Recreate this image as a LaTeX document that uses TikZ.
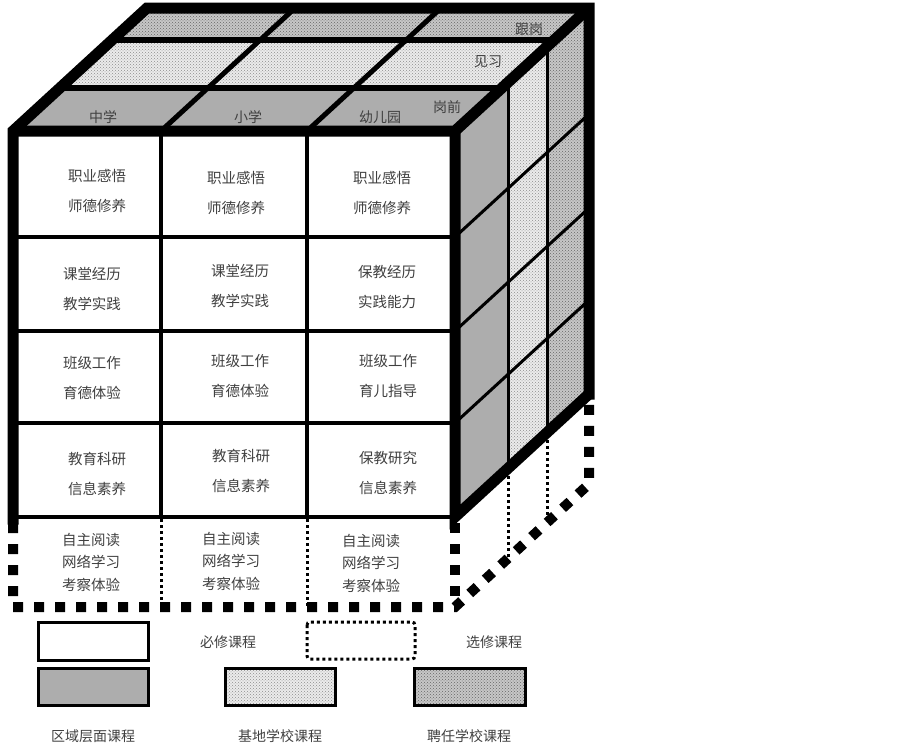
\documentclass[tikz,border=0pt]{standalone}
\usepackage{fontspec}
\newfontfamily\cjk{Noto Sans CJK SC}
\usetikzlibrary{patterns}
\begin{document}
\begin{tikzpicture}[x=1pt,y=-1pt,
  regionfill/.style={fill=black!32},
  basefill/.style={preaction={fill=black!8}, pattern=crosshatch dots, pattern color=black!45},
  hirefill/.style={preaction={fill=black!22}, pattern=crosshatch dots, pattern color=black!60},
  thickedge/.style={line width=11pt, line cap=rect, line join=miter},
  frontgrid/.style={line width=3.5pt},
  topgrid/.style={line width=6pt},
  sidegrid/.style={line width=3.5pt},
  bigdash/.style={line width=10pt, dash pattern=on 10pt off 11pt},
  thindot/.style={line width=3pt, dash pattern=on 3pt off 3pt},
  cellt/.style={align=center, text=black!75, font=\cjk\fontsize{14.5}{30}\selectfont},
  celltb/.style={align=center, text=black!75, font=\cjk\fontsize{14.5}{22.5}\selectfont},
  lbl/.style={text=black!75, font=\cjk\fontsize{14}{16}\selectfont},
  legbox/.style={draw, line width=3pt},
  legdot/.style={draw, line width=3pt, dash pattern=on 3pt off 3pt, rounded corners=3pt}
]
\useasboundingbox (0,0) rectangle (903,744);
% ---------- fills ----------
\fill[white] (13,131) rectangle (455,517);
% top face rows
\path[regionfill] (13,131) -- (455,131) -- (502,88) -- (60,88) -- cycle;
\path[basefill] (60,88) -- (502,88) -- (554,40) -- (112,40) -- cycle;
\path[hirefill] (112,40) -- (554,40) -- (589,8) -- (147,8) -- cycle;
% right face columns
\path[regionfill] (455,131) -- (508.6,81.8) -- (508.6,467.8) -- (455,517) -- cycle;
\path[basefill] (508.6,81.8) -- (547.5,46.1) -- (547.5,432.1) -- (508.6,467.8) -- cycle;
\path[hirefill] (547.5,46.1) -- (589,8) -- (589,394) -- (547.5,432.1) -- cycle;
% ---------- grid lines ----------
% front face
\draw[frontgrid] (13,237) -- (455,237);
\draw[frontgrid] (13,331) -- (455,331);
\draw[frontgrid] (13,423) -- (455,423);
\draw[frontgrid] (13,517) -- (455,517);
\draw[frontgrid] (161,131) -- (161,517);
\draw[frontgrid] (307,131) -- (307,517);
% top face
\draw[topgrid] (60,88) -- (502,88);
\draw[topgrid] (112,40) -- (554,40);
\draw[line width=5pt] (161,131) -- (295,8);
\draw[line width=5pt] (307,131) -- (441,8);
% right face
\draw[sidegrid] (508.6,81.8) -- (508.6,467.8);
\draw[sidegrid] (547.5,46.1) -- (547.5,432.1);
\draw[line width=3pt] (455,237) -- (589,114);
\draw[line width=3pt] (455,331) -- (589,208);
\draw[line width=3pt] (455,423) -- (589,300);
% ---------- thick cube edges ----------
\draw[thickedge] (13,519) -- (13,131) -- (147,8) -- (589,8) -- (589,394);
\draw[thickedge, line cap=butt] (13,131) -- (455,131) -- (589,8);
\draw[thickedge, line cap=butt] (455,131) -- (455,517) -- (589,394);
% ---------- optional (dashed) part ----------
\draw[bigdash] (13,523) -- (13,607) -- (455,607) -- (589,484) -- (589,400);
\draw[bigdash] (455,523) -- (455,607);
\draw[thindot] (161,519) -- (161,607);
\draw[thindot] (307,519) -- (307,607);
\draw[thindot] (508.6,470) -- (508.6,557.8);
\draw[thindot] (547.5,434) -- (547.5,522.1);
% ---------- cell texts ----------
\node[cellt] (a11) at (97,191) {职业感悟\\师德修养};
\node[cellt] (a12) at (236,193) {职业感悟\\师德修养};
\node[cellt] (a13) at (382,193) {职业感悟\\师德修养};
\node[cellt] (a21) at (92,289) {课堂经历\\教学实践};
\node[cellt] (a22) at (240,286) {课堂经历\\教学实践};
\node[cellt] (a23) at (387,287) {保教经历\\实践能力};
\node[cellt] (a31) at (92,378) {班级工作\\育德体验};
\node[cellt] (a32) at (240,376) {班级工作\\育德体验};
\node[cellt] (a33) at (388,376) {班级工作\\育儿指导};
\node[cellt] (a41) at (97,474) {教育科研\\信息素养};
\node[cellt] (a42) at (241,471) {教育科研\\信息素养};
\node[cellt] (a43) at (388,473) {保教研究\\信息素养};
\node[celltb] (a51) at (91,562) {自主阅读\\网络学习\\考察体验};
\node[celltb] (a52) at (231,561) {自主阅读\\网络学习\\考察体验};
\node[celltb] (a53) at (371,563) {自主阅读\\网络学习\\考察体验};
% ---------- top labels ----------
\node[lbl] (l1) at (103,117) {中学};
\node[lbl] (l2) at (248,117) {小学};
\node[lbl] (l3) at (380,117) {幼儿园};
\node[lbl] (l4) at (447,107) {岗前};
\node[lbl] (l5) at (488,62) {见习};
\node[lbl] (l6) at (529,29) {跟岗};
% ---------- legend ----------
\draw[legbox, fill=white] (38,622) rectangle (148,660);
\node[lbl] (g1) at (228,642) {必修课程};
\draw[legdot] (307,622) rectangle (415,659);
\node[lbl] (g2) at (494,642) {选修课程};
\draw[legbox, regionfill] (38,668) rectangle (148,705);
\draw[legbox, basefill] (225,668) rectangle (335,705);
\draw[legbox, hirefill] (414,668) rectangle (525,705);
\node[lbl] (g3) at (93,736) {区域层面课程};
\node[lbl] (g4) at (280,736) {基地学校课程};
\node[lbl] (g5) at (469,736) {聘任学校课程};
\end{tikzpicture}
\end{document}
